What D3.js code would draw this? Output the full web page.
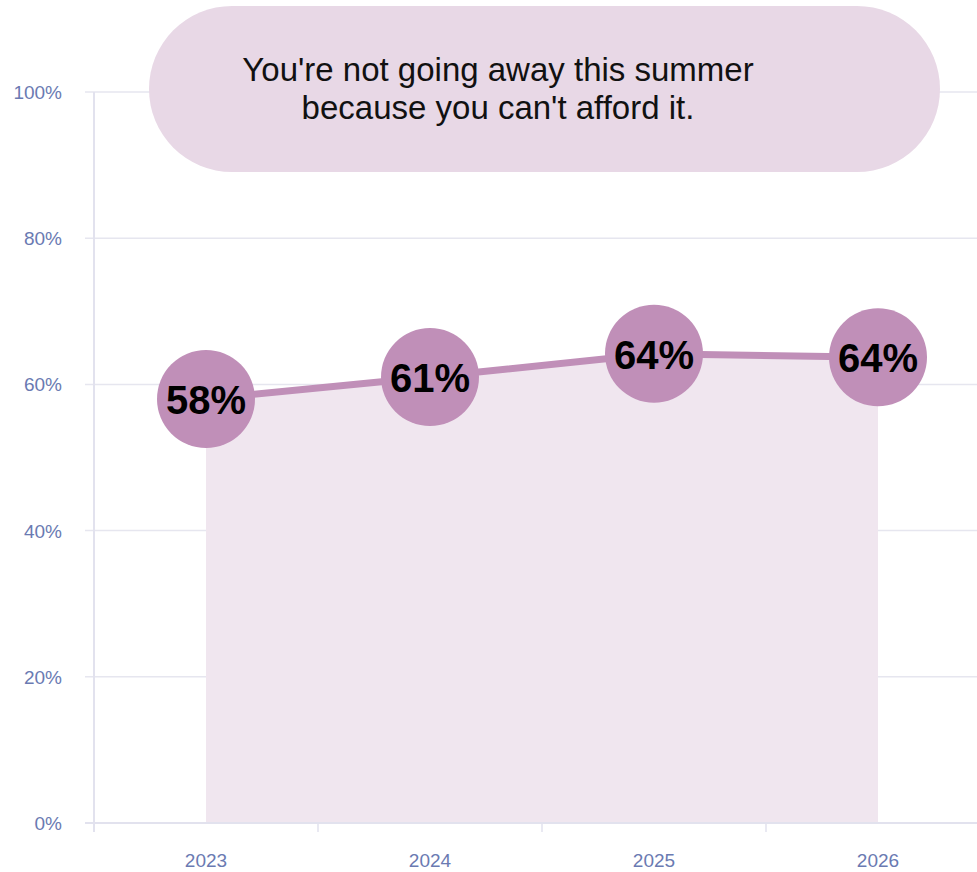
<!DOCTYPE html>
<html><head><meta charset="utf-8">
<script src="https://cdn.jsdelivr.net/npm/d3@7"></script>
<style>body{margin:0;background:#fff}svg{display:block}</style>
</head><body>
<script>
const years = ["2023","2024","2025","2026"];
const values = [58.0, 61.0, 64.2, 63.7];
const yTicks = [0,20,40,60,80,100];
const titleLines = ["You're not going away this summer","because you can't afford it."];

const W=977,H=872;
const svg=d3.select("body").append("svg").attr("width",W).attr("height",H);
const x=d3.scaleBand().domain(years).range([94,990]).paddingInner(0).paddingOuter(0);
const y=d3.scaleLinear().domain([0,100]).range([823,92]);
const cx=d=>x(d)+x.bandwidth()/2;

// gridlines
svg.append("g").selectAll("line").data(yTicks).join("line")
 .attr("x1",85).attr("x2",W).attr("y1",d=>y(d)).attr("y2",d=>y(d))
 .attr("stroke","#e6e6ef").attr("stroke-width",1.5);
// y axis line
svg.append("line").attr("x1",94).attr("x2",94).attr("y1",92).attr("y2",832).attr("stroke","#e2e2ee").attr("stroke-width",2);
// x ticks
svg.append("g").selectAll("line").data(years).join("line")
 .attr("x1",d=>x(d)).attr("x2",d=>x(d)).attr("y1",823).attr("y2",832)
 .attr("stroke","#e2e2ee").attr("stroke-width",1.5);
// y labels
svg.append("g").selectAll("text").data(yTicks).join("text")
 .attr("x",62).attr("y",d=>y(d)+7).attr("text-anchor","end")
 .attr("font-family","Liberation Sans, Arial, sans-serif").attr("font-size",19)
 .attr("fill","#6a7ab2").text(d=>d+"%");
// x labels
svg.append("g").selectAll("text").data(years).join("text")
 .attr("x",d=>cx(d)).attr("y",867).attr("text-anchor","middle")
 .attr("font-family","Liberation Sans, Arial, sans-serif").attr("font-size",19)
 .attr("fill","#6a7ab2").text(d=>d);

const pts=years.map((yr,i)=>({yr,v:values[i]}));
// area
svg.append("path").datum(pts)
 .attr("d",d3.area().x(d=>cx(d.yr)).y0(y(0)).y1(d=>y(d.v)))
 .attr("fill","#f0e6ef");
// baseline redraw over area
svg.append("line").attr("x1",85).attr("x2",W).attr("y1",y(0)).attr("y2",y(0)).attr("stroke","#e2e2ee").attr("stroke-width",2);
// line
svg.append("path").datum(pts)
 .attr("d",d3.line().x(d=>cx(d.yr)).y(d=>y(d.v)))
 .attr("fill","none").attr("stroke","#c08fb8").attr("stroke-width",7);
// circles
svg.append("g").selectAll("circle").data(pts).join("circle")
 .attr("cx",d=>cx(d.yr)).attr("cy",d=>y(d.v)).attr("r",49)
 .attr("fill","#c08fb8");
// labels
svg.append("g").selectAll("text").data(pts).join("text")
 .attr("x",d=>cx(d.yr)).attr("y",d=>y(d.v)+15).attr("text-anchor","middle")
 .attr("font-family","Liberation Sans, Arial, sans-serif").attr("font-weight","bold")
 .attr("font-size",40).attr("fill","#000").text(d=>Math.round(d.v)+"%");

// title pill
svg.append("rect").attr("x",149).attr("y",6).attr("width",791).attr("height",166)
 .attr("rx",83).attr("ry",83).attr("fill","#e8d8e6");
svg.append("g").selectAll("text").data(titleLines).join("text")
 .attr("x",498).attr("y",(d,i)=>81+i*38).attr("text-anchor","middle")
 .attr("font-family","Liberation Sans, Arial, sans-serif").attr("font-size",33)
 .attr("fill","#111").text(d=>d);
</script>
</body></html>
